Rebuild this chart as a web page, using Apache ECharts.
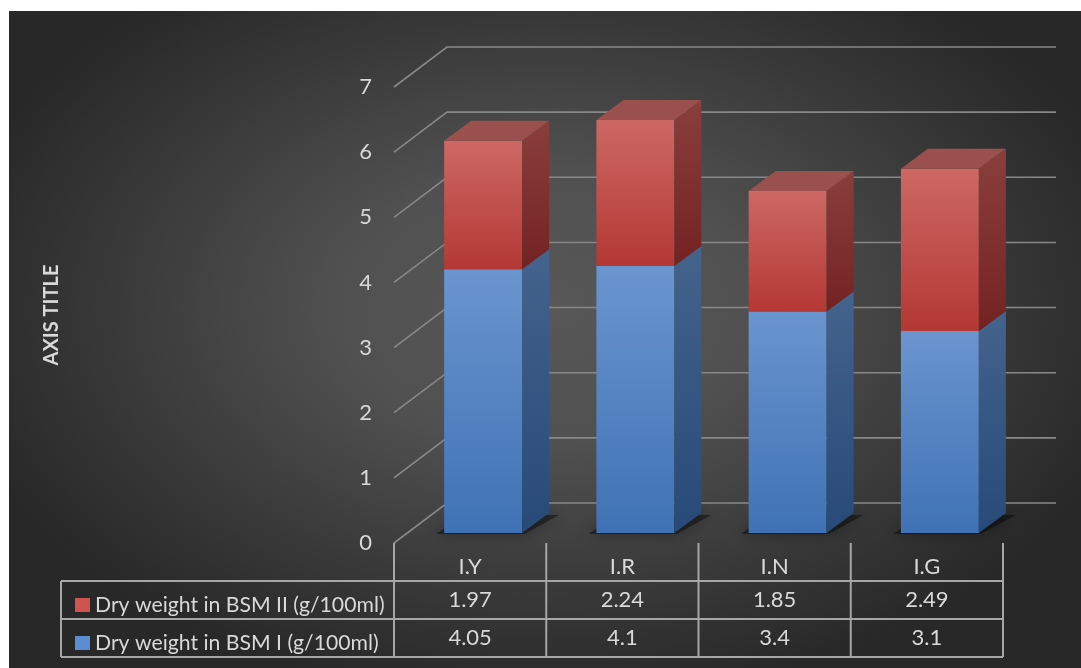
<!DOCTYPE html>
<html><head><meta charset="utf-8">
<script src="https://cdn.jsdelivr.net/npm/echarts@6/dist/echarts.min.js"></script>
<style>html,body{margin:0;padding:0;background:#fff}#c{width:1081px;height:668px}</style>
</head><body><div id="c"></div>
<script>
const categories = ['I.Y', 'I.R', 'I.N', 'I.G'];
const bsm1 = [4.05, 4.1, 3.4, 3.1];
const bsm2 = [1.97, 2.24, 1.85, 2.49];
const yTicks = [0, 1, 2, 3, 4, 5, 6, 7];
const name1 = 'Dry weight in BSM I (g/100ml)';
const name2 = 'Dry weight in BSM II (g/100ml)';
const axisTitle = 'AXIS TITLE';

const FONT = 'Lato';
const FS = 22;
const TXT = '#d9d9d9';
const GRID_C = '#888888';
const TABLE_C = '#a6a6a6';
// perspective offsets
const WALL_DX = 53, WALL_DY = -40;
const BAR_OX = 13, BAR_OY = -10;
const BAR_DX = 27, BAR_DY = -20;
const BAR_RATIO = 0.512;

const LG = (a, b) => new echarts.graphic.LinearGradient(0, 0, 0, 1, [{offset: 0, color: a}, {offset: 1, color: b}]);
const styles = {
  blue: {front: LG('#6a95cf', '#3f72b5'), side: LG('#44638d', '#284a78'), top: '#58779f'},
  red: {front: LG('#cd6864', '#b43834'), side: LG('#8a3f3c', '#732222'), top: '#9a504d'}
};

function barRender(kind, isTop, rowOffset) {
  return function (params, api) {
    const i = api.value(0), s = api.value(1), e = api.value(2), v = api.value(3);
    const cs = params.coordSys;
    const p0 = api.coord([i, s]), p1 = api.coord([i, e]);
    const bw = api.size([1, 0])[0];
    const w = bw * BAR_RATIO;
    const xl = p0[0] + BAR_OX - w / 2, xr = xl + w;
    const yb = p0[1] + BAR_OY, yt = p1[1] + BAR_OY;
    const st = styles[kind];
    const ch = [];
    if (s === 0) {
      ch.push({type: 'polygon', shape: {points: [[xl - 8, yb + 1], [xr + 2, yb + 1], [xr + BAR_DX + 10, yb + BAR_DY + 2], [xl + BAR_DX - 8, yb + BAR_DY + 2]]},
        style: {fill: 'rgba(0,0,0,0.4)', shadowBlur: 14, shadowColor: 'rgba(0,0,0,0.9)'}, silent: true});
    }
    ch.push({type: 'rect', shape: {x: xl, y: yt, width: w, height: yb - yt}, style: {fill: st.front}});
    ch.push({type: 'polygon', shape: {points: [[xr, yb], [xr + BAR_DX, yb + BAR_DY], [xr + BAR_DX, yt + BAR_DY], [xr, yt]]}, style: {fill: st.side}});
    if (isTop) {
      ch.push({type: 'polygon', shape: {points: [[xl, yt], [xr, yt], [xr + BAR_DX, yt + BAR_DY], [xl + BAR_DX, yt + BAR_DY]]}, style: {fill: st.top}});
    }
    // table value
    ch.push({type: 'text', x: p0[0], y: cs.y + cs.height + rowOffset,
      style: {text: String(v), fill: TXT, font: FS + 'px ' + FONT, align: 'center', verticalAlign: 'middle'}});
    return {type: 'group', children: ch};
  };
}

const option = {
  animation: false,
  backgroundColor: '#ffffff',
  graphic: [{
    type: 'rect', z: -10, silent: true, x: 9, y: 11, scaleY: 0.65,
    shape: {x: 0, y: 0, width: 1072, height: 657 / 0.65},
    style: {fill: new echarts.graphic.RadialGradient(0.5, 0.45, 0.6, [
      {offset: 0, color: '#585858'}, {offset: 0.35, color: '#505050'},
      {offset: 0.7, color: '#3a3a3a'}, {offset: 1, color: '#282828'}])}
  }],
  grid: {left: 394, right: 78, top: 87, bottom: 125},
  legend: {
    orient: 'vertical', left: 70, top: 589, itemWidth: 15, itemHeight: 14, itemGap: 16,
    icon: 'rect', data: [name2, name1], selectedMode: false,
    textStyle: {color: TXT, fontSize: 21.2, fontFamily: FONT, lineHeight: 22}
  },
  xAxis: {
    type: 'category', data: categories,
    axisLine: {show: false}, axisTick: {show: false}, splitLine: {show: false},
    axisLabel: {color: TXT, fontSize: FS, fontFamily: FONT, margin: 24, verticalAlign: 'middle', lineHeight: 22}
  },
  yAxis: {
    type: 'value', min: 0, max: 7, interval: 1,
    name: axisTitle, nameLocation: 'middle', nameRotate: 90, nameGap: 332,
    nameTextStyle: {color: TXT, fontSize: 20, fontWeight: 'bold', fontFamily: FONT},
    axisLine: {show: false}, axisTick: {show: false}, splitLine: {show: false},
    axisLabel: {color: TXT, fontSize: FS, fontFamily: FONT, margin: 22}
  },
  series: [
    {
      type: 'custom', name: 'walls', silent: true, clip: false, z: 1,
      data: yTicks.map(v => [0, v]), encode: {x: 0, y: 1},
      renderItem: function (params, api) {
        const cs = params.coordSys;
        const y = api.coord([0, api.value(1)])[1];
        return {type: 'polyline', shape: {points: [[cs.x, y], [cs.x + WALL_DX, y + WALL_DY], [cs.x + cs.width + WALL_DX, y + WALL_DY]]},
          style: {stroke: GRID_C, lineWidth: 1.6, fill: null}};
      }
    },
    {
      type: 'custom', name: 'table', silent: true, clip: false, z: 1,
      data: [[0, 0]], encode: {x: 0, y: 1},
      renderItem: function (params, api) {
        const cs = params.coordSys;
        const bw = api.size([1, 0])[0];
        const y0 = cs.y + cs.height;
        const r1 = y0 + 38, r2 = y0 + 76, r3 = y0 + 114;
        const xr = cs.x + cs.width, xl = 61;
        const ch = [];
        const st = {stroke: TABLE_C, lineWidth: 2};
        for (let k = 0; k <= categories.length; k++) {
          const x = cs.x + k * bw;
          ch.push({type: 'line', shape: {x1: x, y1: y0, x2: x, y2: r3}, style: st});
        }
        [r1, r2, r3].forEach(y => ch.push({type: 'line', shape: {x1: xl, y1: y, x2: xr, y2: y}, style: st}));
        ch.push({type: 'line', shape: {x1: xl, y1: r1, x2: xl, y2: r3}, style: st});
        return {type: 'group', children: ch};
      }
    },
    {
      type: 'custom', name: name1, clip: false, z: 3,
      itemStyle: {color: '#5b8dd2'},
      data: bsm1.map((v, i) => [i, 0, v, v]), encode: {x: 0, y: [1, 2]},
      renderItem: barRender('blue', false, 95)
    },
    {
      type: 'custom', name: name2, clip: false, z: 3,
      itemStyle: {color: '#d0534f'},
      data: bsm2.map((v, i) => [i, bsm1[i], bsm1[i] + v, v]), encode: {x: 0, y: [1, 2]},
      renderItem: barRender('red', true, 57)
    }
  ]
};
const chart = echarts.init(document.getElementById('c'), null, {renderer: 'canvas'});
chart.setOption(option);
</script></body></html>
